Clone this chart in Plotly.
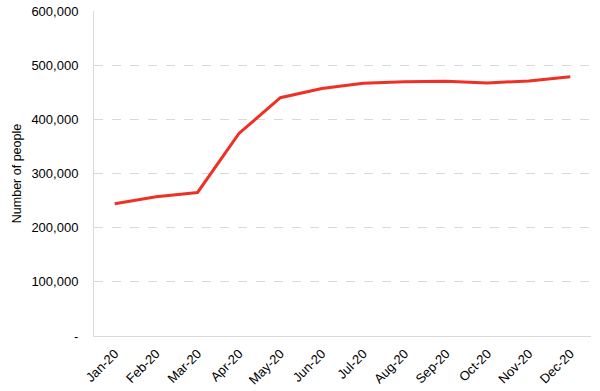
import plotly.graph_objects as go

months = ["Jan-20", "Feb-20", "Mar-20", "Apr-20", "May-20", "Jun-20",
          "Jul-20", "Aug-20", "Sep-20", "Oct-20", "Nov-20", "Dec-20"]
people = [244000, 257000, 265000, 374000, 440000, 457000,
          466500, 469500, 470500, 467000, 471000, 478500]
y_ticks = [0, 100000, 200000, 300000, 400000, 500000, 600000]
y_tick_labels = ["-", "100,000", "200,000", "300,000", "400,000", "500,000", "600,000"]

fig = go.Figure(go.Scatter(
    x=months, y=people, mode="lines",
    line=dict(color="#EE3124", width=3),
))

fig.update_layout(
    width=600, height=391,
    margin=dict(l=94, r=9, t=11, b=55),
    paper_bgcolor="white", plot_bgcolor="white",
    font=dict(family="Liberation Sans, Arial, sans-serif", size=13, color="#000"),
    showlegend=False,
)
fig.update_xaxes(
    type="category", tickangle=-45, showgrid=False, automargin=False,
    range=[-0.5, len(months) - 0.5],
    showline=True, linecolor="#D9D9D9", linewidth=1,
    ticks="", tickfont=dict(size=13), ticklabelstandoff=4,
)
fig.update_yaxes(
    range=[0, 600000], tickvals=y_ticks, ticktext=y_tick_labels, automargin=False,
    showgrid=True, gridcolor="#D9D9D9", griddash="dash", gridwidth=1,
    showline=True, linecolor="#D9D9D9", linewidth=1,
    zeroline=False, ticks="", tickfont=dict(size=13), ticklabelstandoff=12,
    title=dict(text="Number of people", font=dict(size=12.5), standoff=7),
)

fig.write_html("out.html")
